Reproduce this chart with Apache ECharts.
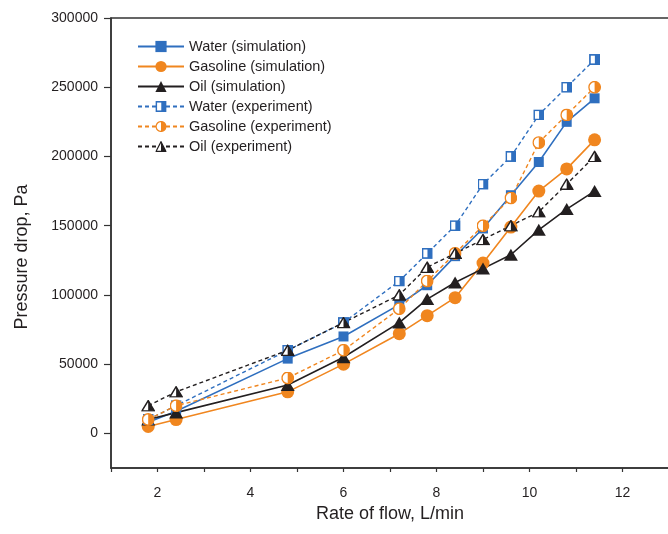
<!DOCTYPE html>
<html>
<head>
<meta charset="utf-8">
<script src="https://cdn.jsdelivr.net/npm/echarts@6/dist/echarts.min.js"></script>
<style>
html, body { margin: 0; padding: 0; background: #fff; }
#echart { width: 668px; height: 534px; }
</style>
</head>
<body>
<div id="echart"></div>
<script>
var flowRates = [1.8, 2.4, 4.8, 6.0, 7.2, 7.8, 8.4, 9.0, 9.6, 10.2, 10.8, 11.4];
var waterSim = [8000, 16000, 54000, 70000, 93000, 107000, 128000, 148000, 172000, 196000, 225000, 242000];
var gasolineSim = [5000, 10000, 30000, 50000, 72000, 85000, 98000, 123000, 149000, 175000, 191000, 212000];
var oilSim = [10000, 15000, 35000, 55000, 80000, 97000, 109000, 119000, 129000, 147000, 162000, 175000];
var waterExp = [10000, 20000, 60000, 80000, 110000, 130000, 150000, 180000, 200000, 230000, 250000, 270000];
var gasolineExp = [10000, 20000, 40000, 60000, 90000, 110000, 130000, 150000, 170000, 210000, 230000, 250000];
var oilExp = [20000, 30000, 60000, 80000, 100000, 120000, 130000, 140000, 150000, 160000, 180000, 200000];
var yTicks = [0, 50000, 100000, 150000, 200000, 250000, 300000];

var BLUE = '#2f6fbf';
var ORANGE = '#f0861f';
var BLACK = '#231f20';

function pairs(values) {
  return flowRates.map(function (x, i) { return [x, values[i]]; });
}

// half filled markers for the experiment series
function halfSymbol(shape, color) {
  var svg;
  if (shape === 'rect') {
    svg = '<svg xmlns="http://www.w3.org/2000/svg" width="20" height="20" viewBox="0 0 20 20">' +
      '<rect x="1.5" y="1.5" width="17" height="17" fill="#fff" stroke="' + color + '" stroke-width="3"/>' +
      '<rect x="10.5" y="1.5" width="8" height="17" fill="' + color + '"/></svg>';
  } else if (shape === 'circle') {
    svg = '<svg xmlns="http://www.w3.org/2000/svg" width="20" height="20" viewBox="0 0 20 20">' +
      '<circle cx="10" cy="10" r="8.8" fill="#fff" stroke="' + color + '" stroke-width="2.2"/>' +
      '<path d="M10 1.2 A8.8 8.8 0 0 1 10 18.8 Z" fill="' + color + '"/></svg>';
  } else {
    svg = '<svg xmlns="http://www.w3.org/2000/svg" width="20" height="20" viewBox="0 0 20 20">' +
      '<polygon points="10,1.5 18.8,18.5 1.2,18.5" fill="#fff" stroke="' + color + '" stroke-width="2.2" stroke-linejoin="miter"/>' +
      '<polygon points="10,1.5 18.8,18.5 10,18.5" fill="' + color + '"/></svg>';
  }
  return 'image://data:image/svg+xml;charset=utf-8,' + encodeURIComponent(svg);
}

var myChart = echarts.init(document.getElementById('echart'));
var font = 'Liberation Sans, Arial, sans-serif';

var option = {
  animation: false,
  textStyle: { fontFamily: font },
  grid: {
    left: 111, right: -1, top: 18, bottom: 66,
    outerBoundsMode: 'none', containLabel: false,
    show: true, borderColor: '#333', borderWidth: 1.5
  },
  legend: {
    orient: 'vertical',
    left: 132, top: 34,
    itemWidth: 46, itemHeight: 14, itemGap: 5,
    textStyle: { fontFamily: font, fontSize: 14.5, color: BLACK },
    data: ['Water (simulation)', 'Gasoline (simulation)', 'Oil (simulation)',
      'Water (experiment)', 'Gasoline (experiment)', 'Oil (experiment)']
  },
  xAxis: {
    type: 'value',
    min: 1, max: 13, interval: 1,
    name: 'Rate of flow, L/min',
    nameLocation: 'middle', nameGap: 36,
    nameTextStyle: { fontFamily: font, fontSize: 18, color: BLACK },
    axisLine: { onZero: false, lineStyle: { color: '#333', width: 1.5 } },
    axisTick: { length: 4, lineStyle: { color: '#333', width: 1.2 } },
    axisLabel: {
      margin: 18, fontSize: 14, color: BLACK,
      formatter: function (v) { return v % 2 === 0 ? String(v) : ''; }
    },
    splitLine: { show: false }
  },
  yAxis: {
    type: 'value',
    min: -25000, max: 300000,
    name: 'Pressure drop, Pa',
    nameLocation: 'middle', nameGap: 80,
    nameTextStyle: { fontFamily: font, fontSize: 18, color: BLACK, padding: [0, 28, 0, 0] },
    axisLine: { onZero: false, lineStyle: { color: '#333', width: 1.5 } },
    axisTick: { length: 7, customValues: yTicks, lineStyle: { color: '#333', width: 1.2 } },
    axisLabel: {
      customValues: yTicks, margin: 13, fontSize: 14, color: BLACK,
      formatter: function (v) { return String(v); }
    },
    splitLine: { show: false }
  },
  series: [
    {
      name: 'Water (simulation)', type: 'line', data: pairs(waterSim),
      symbol: 'rect', symbolSize: 10,
      itemStyle: { color: BLUE },
      lineStyle: { color: BLUE, width: 1.6 }
    },
    {
      name: 'Gasoline (simulation)', type: 'line', data: pairs(gasolineSim),
      symbol: 'circle', symbolSize: 13,
      itemStyle: { color: ORANGE },
      lineStyle: { color: ORANGE, width: 1.6 }
    },
    {
      name: 'Oil (simulation)', type: 'line', data: pairs(oilSim),
      symbol: 'triangle', symbolSize: [14, 12],
      itemStyle: { color: BLACK },
      lineStyle: { color: BLACK, width: 1.6 }
    },
    {
      name: 'Water (experiment)', type: 'line', data: pairs(waterExp),
      symbol: halfSymbol('rect', BLUE), symbolSize: 11,
      itemStyle: { color: BLUE },
      lineStyle: { color: BLUE, width: 1.4, type: [4, 3] }
    },
    {
      name: 'Gasoline (experiment)', type: 'line', data: pairs(gasolineExp),
      symbol: halfSymbol('circle', ORANGE), symbolSize: 13,
      itemStyle: { color: ORANGE },
      lineStyle: { color: ORANGE, width: 1.4, type: [4, 3] }
    },
    {
      name: 'Oil (experiment)', type: 'line', data: pairs(oilExp),
      symbol: halfSymbol('triangle', BLACK), symbolSize: [14, 12],
      itemStyle: { color: BLACK },
      lineStyle: { color: BLACK, width: 1.4, type: [4, 3] }
    }
  ]
};

myChart.setOption(option);
window.addEventListener('resize', function () {
  myChart.resize();
});
</script>
</body>
</html>
